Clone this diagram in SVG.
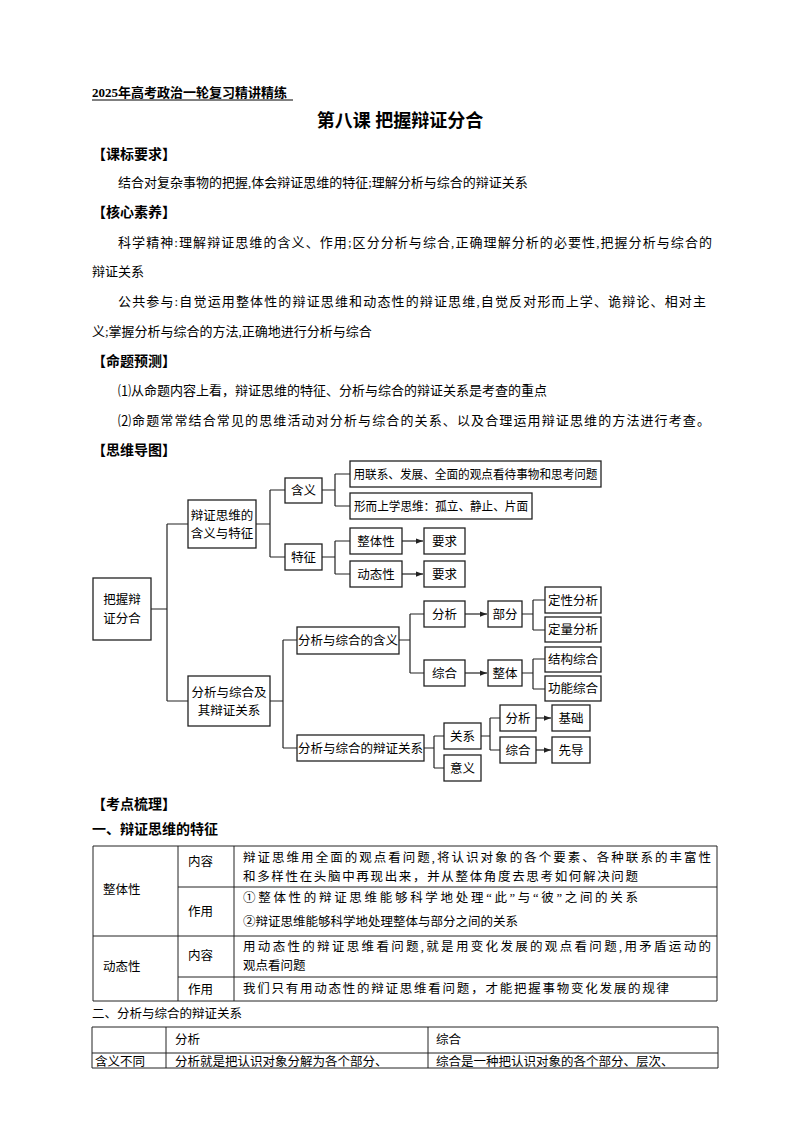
<svg xmlns="http://www.w3.org/2000/svg" width="800" height="1132" viewBox="0 0 800 1132">
<defs>
<style>
text{font-family:"Liberation Serif","Noto Sans CJK SC",serif;fill:#000}
.b{font-weight:bold}
.t{font-size:13px}
.h{font-size:14px;font-weight:bold}
.n rect{fill:#fff;stroke:#222;stroke-width:1.3}
.n text{font-size:12.5px;text-anchor:middle}
.c path{fill:none;stroke:#222;stroke-width:1.2}
.tb line{stroke:#222;stroke-width:1}
.tc{font-size:12.5px}
</style>
<marker id="a" viewBox="0 0 8 8" refX="8" refY="4" markerWidth="6" markerHeight="6" orient="auto"><path d="M0,1 L8,4 L0,7z" fill="#222"/></marker>
</defs>
<rect width="800" height="1132" fill="#fff"/>
<text x="92" y="97" class="b" font-size="13">2025年高考政治一轮复习精讲精练</text>
<line x1="92" y1="100" x2="293" y2="100" stroke="#000"/>
<text x="400" y="127" class="b" font-size="18" text-anchor="middle">第八课 把握辩证分合</text>
<text x="92" y="159" class="h">【课标要求】</text>
<text x="118" y="187" class="t">结合对复杂事物的把握,体会辩证思维的特征;理解分析与综合的辩证关系</text>
<text x="92" y="217" class="h">【核心素养】</text>
<text x="118" y="247" class="t" textLength="594">科学精神:理解辩证思维的含义、作用;区分分析与综合,正确理解分析的必要性,把握分析与综合的</text>
<text x="92" y="276" class="t">辩证关系</text>
<text x="118" y="306" class="t" textLength="588">公共参与:自觉运用整体性的辩证思维和动态性的辩证思维,自觉反对形而上学、诡辩论、相对主</text>
<text x="92" y="336" class="t">义;掌握分析与综合的方法,正确地进行分析与综合</text>
<text x="92" y="366" class="h">【命题预测】</text>
<text x="118" y="395" class="t">⑴从命题内容上看，辩证思维的特征、分析与综合的辩证关系是考查的重点</text>
<text x="118" y="425" class="t" textLength="592">⑵命题常常结合常见的思维活动对分析与综合的关系、以及合理运用辩证思维的方法进行考查。</text>
<text x="92" y="455" class="h">【思维导图】</text>

<g class="c">
<path d="M151,609H167M167,524V701M167,524H188M167,701H188"/>
<path d="M256,524H270M270,490V557M270,490H285M270,557H285"/>
<path d="M322,490H335M335,474V506M335,474H350M335,506H350"/>
<path d="M322,557H335M335,541V574M335,541H350M335,574H350"/>
<path d="M402,541H423" marker-end="url(#a)"/>
<path d="M402,574H423" marker-end="url(#a)"/>
<path d="M270,701H283M283,640V748M283,640H297M283,748H297"/>
<path d="M399,640H410M410,614V673M410,614H424M410,673H424"/>
<path d="M465,614H487" marker-end="url(#a)"/>
<path d="M465,673H487" marker-end="url(#a)"/>
<path d="M522,614H533M533,600V630M533,600H545M533,630H545"/>
<path d="M522,673H533M533,659V689M533,659H545M533,689H545"/>
<path d="M424,748H434M434,736V768M434,736H444M434,768H444"/>
<path d="M481,736H490M490,718V750M490,718H500M490,750H500"/>
<path d="M536,718H551" marker-end="url(#a)"/>
<path d="M536,750H551" marker-end="url(#a)"/>
</g>

<g id="root" class="n"><rect x="93" y="578" width="58" height="62"/><text x="122" y="604">把握辩</text><text x="122" y="623">证分合</text></g>
<g id="n1" class="n"><rect x="188" y="500" width="68" height="48"/><text x="222" y="520">辩证思维的</text><text x="222" y="538">含义与特征</text></g>
<g id="n2" class="n"><rect x="188" y="676" width="82" height="50"/><text x="229" y="697">分析与综合及</text><text x="229" y="715">其辩证关系</text></g>
<g id="hy" class="n"><rect x="285" y="478" width="37" height="25"/><text x="303.5" y="495">含义</text></g>
<g id="tz" class="n"><rect x="285" y="544" width="37" height="26"/><text x="303.5" y="562">特征</text></g>
<g id="l1" class="n"><rect x="350" y="461" width="251" height="26"/><text x="475.5" y="479" textLength="244" lengthAdjust="spacingAndGlyphs">用联系、发展、全面的观点看待事物和思考问题</text></g>
<g id="l2" class="n"><rect x="350" y="493" width="182" height="26"/><text x="441" y="511" textLength="174" lengthAdjust="spacingAndGlyphs">形而上学思维：孤立、静止、片面</text></g>
<g id="zt" class="n"><rect x="350" y="528" width="52" height="26"/><text x="376" y="546">整体性</text></g>
<g id="yq1" class="n"><rect x="424" y="528" width="41" height="26"/><text x="444.5" y="546">要求</text></g>
<g id="dt" class="n"><rect x="350" y="561" width="52" height="26"/><text x="376" y="579">动态性</text></g>
<g id="yq2" class="n"><rect x="424" y="561" width="41" height="26"/><text x="444.5" y="579">要求</text></g>
<g id="fz" class="n"><rect x="297" y="627" width="102" height="27"/><text x="348" y="645">分析与综合的含义</text></g>
<g id="fx" class="n"><rect x="424" y="601" width="41" height="26"/><text x="444.5" y="619">分析</text></g>
<g id="bf" class="n"><rect x="488" y="601" width="34" height="26"/><text x="505" y="619">部分</text></g>
<g id="dx" class="n"><rect x="545" y="587" width="56" height="26"/><text x="573" y="605">定性分析</text></g>
<g id="dl" class="n"><rect x="545" y="617" width="56" height="25"/><text x="573" y="634">定量分析</text></g>
<g id="zh" class="n"><rect x="424" y="660" width="41" height="26"/><text x="444.5" y="678">综合</text></g>
<g id="ztt" class="n"><rect x="488" y="660" width="34" height="26"/><text x="505" y="678">整体</text></g>
<g id="jg" class="n"><rect x="545" y="647" width="56" height="25"/><text x="573" y="664">结构综合</text></g>
<g id="gn" class="n"><rect x="545" y="676" width="56" height="25"/><text x="573" y="693">功能综合</text></g>
<g id="bz" class="n"><rect x="297" y="735" width="127" height="26"/><text x="360.5" y="753">分析与综合的辩证关系</text></g>
<g id="gx" class="n"><rect x="444" y="723" width="37" height="26"/><text x="462.5" y="741">关系</text></g>
<g id="yy" class="n"><rect x="444" y="755" width="37" height="26"/><text x="462.5" y="773">意义</text></g>
<g id="fx2" class="n"><rect x="500" y="705" width="36" height="26"/><text x="518" y="723">分析</text></g>
<g id="jc" class="n"><rect x="552" y="705" width="38" height="26"/><text x="571" y="723">基础</text></g>
<g id="zh2" class="n"><rect x="500" y="737" width="36" height="26"/><text x="518" y="755">综合</text></g>
<g id="xd" class="n"><rect x="552" y="737" width="38" height="26"/><text x="571" y="755">先导</text></g>

<text x="92" y="809" class="h">【考点梳理】</text>
<text x="92" y="834" class="h">一、辩证思维的特征</text>
<g class="tb">
<line x1="93" y1="846" x2="717" y2="846"/><line x1="178" y1="887" x2="717" y2="887"/>
<line x1="93" y1="936" x2="717" y2="936"/><line x1="178" y1="977" x2="717" y2="977"/>
<line x1="93" y1="1001" x2="717" y2="1001"/>
<line x1="93" y1="846" x2="93" y2="1001"/><line x1="178" y1="846" x2="178" y2="1001"/>
<line x1="234" y1="846" x2="234" y2="1001"/><line x1="717" y1="846" x2="717" y2="1001"/>
</g>
<g class="tc">
<text x="103" y="894" class="tc">整体性</text>
<text x="188" y="866" class="tc">内容</text>
<text x="243" y="862" class="tc" textLength="468">辩证思维用全面的观点看问题,将认识对象的各个要素、各种联系的丰富性</text>
<text x="243" y="881" class="tc" textLength="395">和多样性在头脑中再现出来，并从整体角度去思考如何解决问题</text>
<text x="188" y="916" class="tc">作用</text>
<text x="243" y="902" class="tc" textLength="395">①整体性的辩证思维能够科学地处理“此”与“彼”之间的关系</text>
<text x="243" y="926" class="tc">②辩证思维能够科学地处理整体与部分之间的关系</text>
<text x="103" y="971" class="tc">动态性</text>
<text x="188" y="960" class="tc">内容</text>
<text x="243" y="951" class="tc" textLength="468">用动态性的辩证思维看问题,就是用变化发展的观点看问题,用矛盾运动的</text>
<text x="243" y="970" class="tc">观点看问题</text>
<text x="188" y="994" class="tc">作用</text>
<text x="243" y="993" class="tc" textLength="426">我们只有用动态性的辩证思维看问题，才能把握事物变化发展的规律</text>
</g>
<text x="92" y="1018" class="tc">二、分析与综合的辩证关系</text>
<g class="tb">
<line x1="92" y1="1027" x2="718" y2="1027"/><line x1="92" y1="1053" x2="718" y2="1053"/>
<line x1="92" y1="1068" x2="718" y2="1068"/>
<line x1="92" y1="1027" x2="92" y2="1068"/><line x1="166" y1="1027" x2="166" y2="1068"/>
<line x1="428" y1="1027" x2="428" y2="1068"/><line x1="718" y1="1027" x2="718" y2="1068"/>
</g>
<text x="175" y="1044" class="tc">分析</text>
<text x="436" y="1044" class="tc">综合</text>
<text x="95" y="1066" class="tc">含义不同</text>
<text x="175" y="1066" class="tc">分析就是把认识对象分解为各个部分、</text>
<text x="436" y="1066" class="tc">综合是一种把认识对象的各个部分、层次、</text>
</svg>
